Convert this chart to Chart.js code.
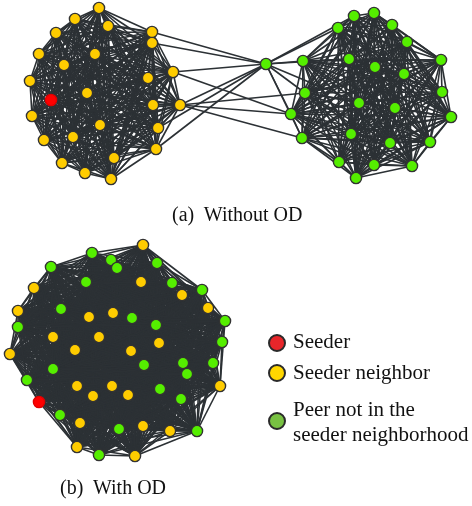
<!DOCTYPE html>
<html>
<head>
<meta charset="utf-8">
<script src="https://cdn.jsdelivr.net/npm/chart.js@4.4.1/dist/chart.umd.min.js"></script>
<style>
  html, body { margin: 0; padding: 0; background: #ffffff; }
  #wrap { position: relative; width: 472px; height: 506px; }
  canvas { position: absolute; left: 0; top: 0; }
  .lbl { position: absolute; font-family: "Liberation Serif", "Times New Roman", serif; color: #111; white-space: nowrap; line-height: 1; }
</style>
</head>
<body>
<div id="wrap">
  <canvas id="net" width="472" height="506"></canvas>
  <div class="lbl" id="capA" style="font-size:20px; left:172px; top:204px;">(a)&nbsp; Without OD</div>
  <div class="lbl" id="capB" style="font-size:20px; left:60px; top:477px;">(b)&nbsp; With OD</div>
  <div class="lbl" style="font-size:21px; left:293px; top:331px;">Seeder</div>
  <div class="lbl" style="font-size:21px; left:293px; top:362px;">Seeder neighbor</div>
  <div class="lbl" style="font-size:21px; left:293px; top:399px;">Peer not in the</div>
  <div class="lbl" style="font-size:21px; left:293px; top:424px;">seeder neighborhood</div>
</div>
<script>
// ---- (a) Without OD: two peer communities joined by a few links ----
const topSeeder = [[51, 100]];
const topNeighbors = [
  [99, 8], [75, 19], [108, 26], [56, 33], [152, 32], [152, 43], [39, 54], [95, 54],
  [64, 65], [173, 72], [30, 81], [148, 78], [87, 93], [180, 105], [153, 105], [32, 116],
  [100, 125], [158, 128], [73, 137], [44, 140], [156, 149], [114, 158], [62, 163],
  [85, 173], [111, 179]
];
const topOthers = [
  [266, 64], [354, 16], [374, 13], [338, 28], [392, 25], [407, 42], [303, 61], [349, 59],
  [441, 60], [375, 67], [404, 74], [305, 93], [442, 92], [359, 103], [395, 108], [291, 114],
  [451, 117], [302, 138], [351, 134], [390, 143], [430, 142], [339, 162], [374, 165],
  [412, 166], [356, 178]
];
// peer 0 of topOthers is the gateway peer; its links into its own community
const gatewayLinks = [1, 3, 6, 7, 11, 13, 15, 17];
// [seeder-side neighbor index, other-community index]
const crossLinks = [
  [4, 0], [5, 0], [9, 0], [9, 15], [13, 0], [13, 11], [13, 15], [13, 17], [17, 0], [20, 0]
];

// ---- (b) With OD: one mixed community ----
const botSeeder = [[39, 402]];
const botNeighbors = [
  [143, 245], [141, 282], [34, 288], [182, 295], [208, 308], [18, 311], [113, 313],
  [89, 317], [53, 337], [99, 337], [159, 343], [75, 350], [131, 351], [10, 354],
  [77, 386], [112, 386], [220, 386], [128, 395], [93, 396], [80, 423], [143, 426],
  [170, 431], [77, 447], [135, 456]
];
const botOthers = [
  [92, 253], [111, 260], [117, 268], [157, 263], [51, 267], [86, 282], [172, 283],
  [202, 290], [61, 309], [132, 318], [225, 321], [156, 325], [18, 327], [222, 342],
  [213, 363], [183, 363], [144, 365], [53, 369], [187, 374], [27, 380], [160, 389],
  [181, 399], [60, 415], [119, 429], [197, 431], [99, 455]
];

// ---- legend ----
const legendLabels = ["Seeder", "Seeder neighbor", "Peer not in the seeder neighborhood"];
const legendMarkers = [[277, 343], [277, 373], [277, 421]];

const toPts = arr => arr.map(p => ({ x: p[0], y: p[1] }));

// edge list as pairs of [x,y]
const edges = [];
function clique(nodes) {
  for (let i = 0; i < nodes.length; i++)
    for (let j = i + 1; j < nodes.length; j++) edges.push([nodes[i], nodes[j]]);
}
clique(topSeeder.concat(topNeighbors));
clique(topOthers.slice(1));
gatewayLinks.forEach(k => edges.push([topOthers[0], topOthers[k]]));
crossLinks.forEach(([a, b]) => edges.push([topNeighbors[a], topOthers[b]]));
clique(botSeeder.concat(botNeighbors, botOthers));

const edgePlugin = {
  id: 'edges',
  beforeDatasetsDraw(chart) {
    const { ctx, scales: { x, y } } = chart;
    ctx.save();
    ctx.strokeStyle = '#2c3135';
    ctx.lineWidth = 1.6;
    edges.forEach(([a, b]) => {
      ctx.beginPath();
      ctx.moveTo(x.getPixelForValue(a[0]), y.getPixelForValue(a[1]));
      ctx.lineTo(x.getPixelForValue(b[0]), y.getPixelForValue(b[1]));
      ctx.stroke();
    });
    ctx.restore();
  }
};

const nodeStyle = { pointRadius: 5.6, pointBorderWidth: 1.4, pointBorderColor: '#333333', clip: false };

new Chart(document.getElementById('net'), {
  type: 'scatter',
  data: {
    datasets: [
      Object.assign({ label: 'neighbors-a', data: toPts(topNeighbors), pointBackgroundColor: '#FFCC00' }, nodeStyle),
      Object.assign({ label: 'others-a', data: toPts(topOthers), pointBackgroundColor: '#55EE00' }, nodeStyle),
      Object.assign({ label: 'seeder-a', data: toPts(topSeeder), pointBackgroundColor: '#FF0000' }, nodeStyle, { pointBorderColor: '#E00000' }),
      Object.assign({ label: 'neighbors-b', data: toPts(botNeighbors), pointBackgroundColor: '#FFCC00' }, nodeStyle),
      Object.assign({ label: 'others-b', data: toPts(botOthers), pointBackgroundColor: '#55EE00' }, nodeStyle),
      Object.assign({ label: 'seeder-b', data: toPts(botSeeder), pointBackgroundColor: '#FF0000' }, nodeStyle, { pointBorderColor: '#E00000' }),
      {
        label: 'legend',
        data: toPts(legendMarkers),
        pointRadius: 8,
        pointBorderWidth: 2,
        pointBorderColor: '#2a2a2a',
        pointBackgroundColor: ['#E8262A', '#FFD700', '#78C142'],
        clip: false
      }
    ]
  },
  options: {
    responsive: false,
    animation: false,
    events: [],
    layout: { padding: 0, autoPadding: false },
    scales: {
      x: { type: 'linear', min: 0, max: 472, display: false },
      y: { type: 'linear', min: 0, max: 506, reverse: true, display: false }
    },
    plugins: { legend: { display: false }, tooltip: { enabled: false } }
  },
  plugins: [edgePlugin]
});
</script>
</body>
</html>
